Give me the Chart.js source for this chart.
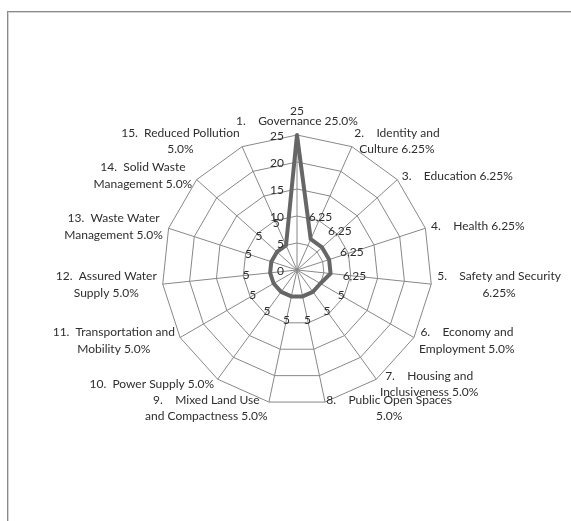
<!DOCTYPE html>
<html>
<head>
<meta charset="utf-8">
<script src="https://cdn.jsdelivr.net/npm/chart.js@4.4.1/dist/chart.umd.min.js"></script>
<style>
  html, body { margin: 0; padding: 0; background: #fff; }
  #wrap { position: relative; width: 571px; height: 521px; overflow: hidden; }
  #frame {
    position: absolute; left: 7px; top: 11px; width: 600px; height: 560px;
    border-left: 1px solid #8a8a8a; border-top: 1px solid #8a8a8a;
    box-shadow: inset 1px 1px 0 #d4d4d4;
  }
  #chart { position: absolute; left: 0; top: 0; }
</style>
</head>
<body>
<div id="wrap">
  <div id="frame"></div>
  <canvas id="chart" width="571" height="521"></canvas>
</div>
<script>
// categories (each entry = lines of the label)
const categories = [
  ['1.    Governance 25.0%'],
  ['2.    Identity and', 'Culture 6.25%'],
  ['3.    Education 6.25%'],
  ['4.    Health 6.25%'],
  ['5.    Safety and Security', '6.25%'],
  ['6.    Economy and', 'Employment 5.0%'],
  ['7.    Housing and', 'Inclusiveness 5.0%'],
  ['8.    Public Open Spaces', '5.0%'],
  ['9.    Mixed Land Use', 'and Compactness 5.0%'],
  ['10.  Power Supply 5.0%'],
  ['11.  Transportation and', 'Mobility 5.0%'],
  ['12.  Assured Water', 'Supply 5.0%'],
  ['13.  Waste Water', 'Management 5.0%'],
  ['14.  Solid Waste', 'Management 5.0%'],
  ['15.  Reduced Pollution', '5.0%']
];
const weights = [25, 6.25, 6.25, 6.25, 6.25, 5, 5, 5, 5, 5, 5, 5, 5, 5, 5];
const tickValues = [0, 5, 10, 15, 20, 25];

const FONT = '12px Lato, "Liberation Sans", sans-serif';
const TEXT = '#2e2e2e';

// category labels around the web, Excel style (block centred on its line)
const pointLabelPlugin = {
  id: 'pointLabelPlugin',
  afterDraw(chart) {
    const scale = chart.scales.r;
    const ctx = chart.ctx;
    const lineH = 16.5;
    ctx.save();
    ctx.font = FONT;
    ctx.fillStyle = TEXT;
    ctx.textBaseline = 'middle';
    ctx.textAlign = 'center';
    categories.forEach((lines, i) => {
      const a = scale.getIndexAngle(i);
      const p = scale.getPointPosition(i, scale.drawingArea + 6);
      const w = Math.max(...lines.map(l => ctx.measureText(l).width));
      const h = lines.length * lineH;
      const s = Math.sin(a), c = Math.cos(a);
      let cx = p.x;
      if (s > 0.01) cx = p.x + w / 2;
      else if (s < -0.01) cx = p.x - w / 2;
      let top = p.y - h / 2;
      if (c > 0.99) top = p.y - h;
      else if (c < -0.99) top = p.y;
      lines.forEach((l, k) => ctx.fillText(l, cx, top + lineH * (k + 0.5)));
    });
    ctx.restore();
  }
};

// value labels + axis tick labels
const valueLabelPlugin = {
  id: 'valueLabelPlugin',
  afterDatasetsDraw(chart) {
    const scale = chart.scales.r;
    const ctx = chart.ctx;
    ctx.save();
    ctx.font = FONT;
    ctx.fillStyle = TEXT;
    ctx.textBaseline = 'middle';
    ctx.textAlign = 'right';
    tickValues.forEach(v => {
      const y = scale.yCenter - scale.getDistanceFromCenterForValue(v);
      ctx.fillText(String(v), scale.xCenter - 13, y + 1);
    });
    ctx.textAlign = 'center';
    weights.forEach((v, i) => {
      const p = scale.getPointPosition(i, scale.getDistanceFromCenterForValue(v) + 24);
      ctx.fillText(String(v).replace('.', ','), p.x, p.y);
    });
    ctx.restore();
  }
};

new Chart(document.getElementById('chart'), {
  type: 'radar',
  data: {
    labels: categories,
    datasets: [{
      data: weights,
      borderColor: '#666666',
      borderWidth: 4,
      borderJoinStyle: 'round',
      fill: false,
      pointRadius: 0,
      tension: 0
    }]
  },
  options: {
    responsive: false,
    animation: false,
    layout: { padding: { left: 162, right: 139, top: 135, bottom: 116 } },
    plugins: { legend: { display: false }, tooltip: { enabled: false } },
    scales: {
      r: {
        min: 0,
        max: 25,
        ticks: { display: false, stepSize: 5 },
        pointLabels: { display: false },
        grid: { color: '#888888', lineWidth: 1 },
        angleLines: { color: '#888888', lineWidth: 1 }
      }
    }
  },
  plugins: [pointLabelPlugin, valueLabelPlugin]
});
</script>
</body>
</html>
